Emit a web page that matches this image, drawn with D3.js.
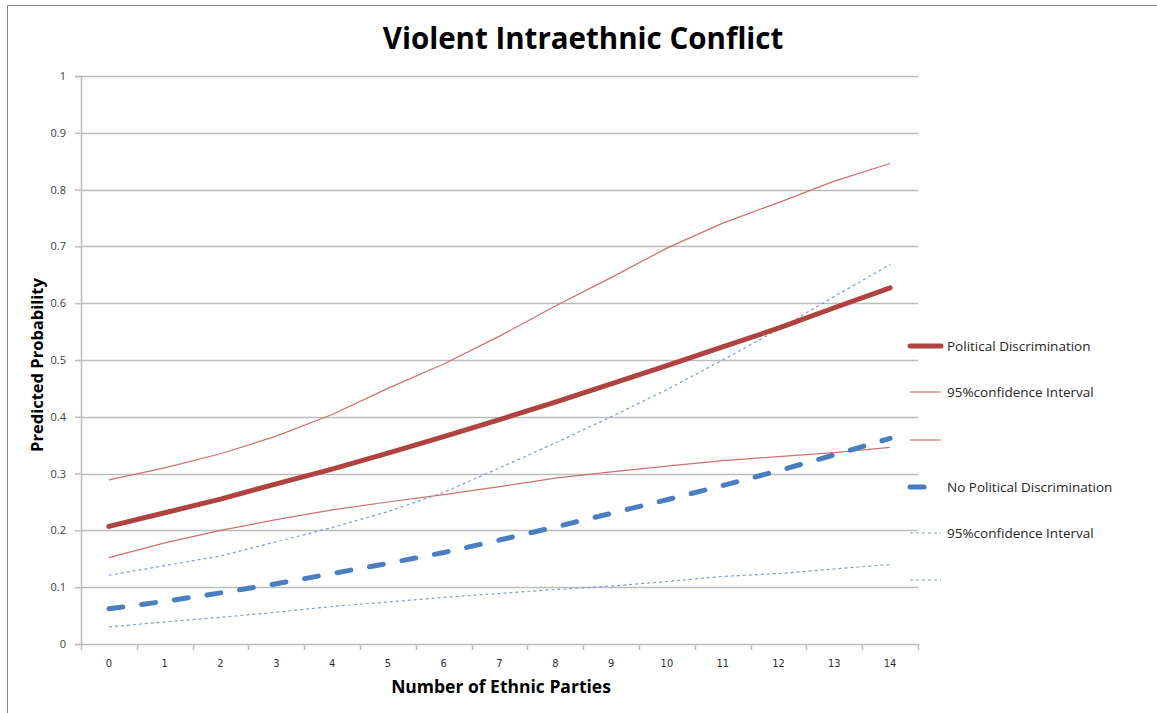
<!DOCTYPE html>
<html>
<head>
<meta charset="utf-8">
<script src="https://cdn.jsdelivr.net/npm/d3@7"></script>
<style>
  body { margin: 0; background: #fff; }
  svg { display: block; }
</style>
</head>
<body>
<svg id="chart" width="1157" height="713"></svg>
<script>
const parties = [0, 1, 2, 3, 4, 5, 6, 7, 8, 9, 10, 11, 12, 13, 14]
const yTicks = [0, 0.1, 0.2, 0.3, 0.4, 0.5, 0.6, 0.7, 0.8, 0.9, 1]

const polDisc = [0.207, 0.231, 0.255, 0.282, 0.308, 0.336, 0.365, 0.395, 0.426, 0.458, 0.490, 0.523, 0.556, 0.592, 0.627]
const polUpper = [0.289, 0.310, 0.335, 0.366, 0.404, 0.450, 0.493, 0.542, 0.595, 0.645, 0.697, 0.741, 0.777, 0.815, 0.846]
const polLower = [0.152, 0.178, 0.200, 0.219, 0.236, 0.250, 0.263, 0.277, 0.292, 0.303, 0.313, 0.323, 0.330, 0.337, 0.346]
const noDisc = [0.062, 0.075, 0.090, 0.106, 0.124, 0.142, 0.161, 0.183, 0.206, 0.230, 0.254, 0.279, 0.305, 0.333, 0.362]
const noUpper = [0.121, 0.138, 0.155, 0.180, 0.205, 0.233, 0.267, 0.310, 0.354, 0.400, 0.448, 0.500, 0.554, 0.612, 0.668]
const noLower = [0.030, 0.039, 0.047, 0.056, 0.066, 0.074, 0.082, 0.089, 0.096, 0.102, 0.110, 0.119, 0.124, 0.132, 0.140]

const legendLabels = ['Political Discrimination', '95%confidence Interval', '', 'No Political Discrimination', '95%confidence Interval', '']

const RED = '#b0433f'
const RED_THIN = '#d0706c'
const BLUE = '#4a7ebf'
const BLUE_THIN = '#7c9fd0'

const styles = [
    { stroke: RED, width: 5, dash: null, cap: 'round' },
    { stroke: RED_THIN, width: 1.2, dash: null, cap: 'butt' },
    { stroke: RED_THIN, width: 1.2, dash: null, cap: 'butt' },
    { stroke: BLUE, width: 5, dash: '14,19', cap: 'round' },
    { stroke: BLUE_THIN, width: 1.2, dash: '3,3', cap: 'butt' },
    { stroke: BLUE_THIN, width: 1.2, dash: '3,3', cap: 'butt' }
]
const series = [polDisc, polUpper, polLower, noDisc, noUpper, noLower]
// draw order: CIs first, main lines on top
const drawOrder = [1, 2, 4, 5, 0, 3]

const $svg = d3.select('#chart')
const width = 1157, height = 713
const MARGIN = { top: 76, right: 239, bottom: 69, left: 81 }
const plotRight = width - MARGIN.right
const plotBottom = height - MARGIN.bottom

// outer frame (only left and top edges show)
$svg.append('path')
    .attr('d', `M7.5,${height + 5} V5.5 H${width + 5}`)
    .attr('fill', 'none')
    .attr('stroke', '#868686')
    .attr('stroke-width', 1)

const x = d3.scaleBand()
    .domain(parties)
    .range([MARGIN.left, plotRight])
const xc = d => x(d) + x.bandwidth() / 2

const y = d3.scaleLinear()
    .domain([0, 1])
    .range([plotBottom, MARGIN.top])

// gridlines
$svg.append('g')
    .selectAll('line')
    .data(yTicks.filter(d => d > 0))
    .join('line')
    .attr('x1', MARGIN.left)
    .attr('x2', plotRight)
    .attr('y1', d => Math.round(y(d)) + 0.5)
    .attr('y2', d => Math.round(y(d)) + 0.5)
    .attr('stroke', '#bdbdbd')
    .attr('stroke-width', 1.5)

// y axis
const yAxis = d3.axisLeft(y)
    .tickValues(yTicks)
    .tickFormat(d => d3.format('~g')(d))
    .tickSize(6)
    .tickPadding(9)
const $yAxis = $svg.append('g')
    .attr('transform', `translate(${MARGIN.left},0)`)
    .call(yAxis)
$yAxis.select('.domain').attr('stroke', '#bdbdbd').attr('stroke-width', 1.5)
$yAxis.selectAll('.tick line').attr('stroke', '#bdbdbd').attr('stroke-width', 1.5)
$yAxis.selectAll('.tick text')
    .attr('font-family', "'Open Sans', sans-serif")
    .attr('font-size', 11)
    .attr('fill', '#404040')

// x axis: ticks between categories, labels at centres
const $xAxis = $svg.append('g')
$xAxis.append('line')
    .attr('x1', MARGIN.left)
    .attr('x2', plotRight)
    .attr('y1', plotBottom + 0.5)
    .attr('y2', plotBottom + 0.5)
    .attr('stroke', '#bdbdbd')
    .attr('stroke-width', 1.5)
$xAxis.selectAll('.xtick')
    .data(parties.map(d => x(d)).concat([plotRight]))
    .join('line')
    .attr('class', 'xtick')
    .attr('x1', d => Math.round(d) + 0.5)
    .attr('x2', d => Math.round(d) + 0.5)
    .attr('y1', plotBottom)
    .attr('y2', plotBottom + 6)
    .attr('stroke', '#bdbdbd')
    .attr('stroke-width', 1.5)
$xAxis.selectAll('.xlabel')
    .data(parties)
    .join('text')
    .attr('class', 'xlabel')
    .attr('x', d => xc(d))
    .attr('y', plotBottom + 23)
    .attr('text-anchor', 'middle')
    .attr('font-family', "'DejaVu Sans Condensed', 'DejaVu Sans', sans-serif")
    .attr('font-stretch', 'condensed')
    .attr('font-size', 11)
    .attr('fill', '#303030')
    .text(d => d)

// lines
const line = d3.line()
    .x((d, i) => xc(parties[i]))
    .y(d => y(d))

$svg.append('g')
    .selectAll('path')
    .data(drawOrder)
    .join('path')
    .attr('d', k => line(series[k]))
    .attr('fill', 'none')
    .attr('stroke', k => styles[k].stroke)
    .attr('stroke-width', k => styles[k].width)
    .attr('stroke-dasharray', k => styles[k].dash)
    .attr('stroke-linecap', k => styles[k].cap)
    .attr('stroke-linejoin', 'round')

// legend
const legendY = [346, 392, 440, 487, 533, 580]
const $legend = $svg.append('g')
const $items = $legend.selectAll('g')
    .data(legendLabels)
    .join('g')
    .attr('transform', (d, i) => `translate(0,${legendY[i]})`)
$items.append('line')
    .attr('x1', 910)
    .attr('x2', (d, i) => i === 3 ? 924 : 941)
    .attr('y1', 0)
    .attr('y2', 0)
    .attr('stroke', (d, i) => styles[i].stroke)
    .attr('stroke-width', (d, i) => styles[i].width)
    .attr('stroke-dasharray', (d, i) => i === 3 ? null : styles[i].dash)
    .attr('stroke-linecap', (d, i) => styles[i].cap)
$items.append('text')
    .attr('x', 947)
    .attr('y', 5)
    .attr('font-family', "'Open Sans', sans-serif")
    .attr('font-size', 13.5)
    .attr('fill', '#262626')
    .text(d => d)

// title and axis titles
$svg.append('text')
    .attr('x', 583)
    .attr('y', 49)
    .attr('text-anchor', 'middle')
    .attr('font-family', "'Open Sans', sans-serif")
    .attr('font-weight', 'bold')
    .attr('font-size', 29.5)
    .attr('fill', '#000')
    .text('Violent Intraethnic Conflict')

$svg.append('text')
    .attr('transform', `translate(43,${(MARGIN.top + plotBottom) / 2 + 5}) rotate(-90)`)
    .attr('text-anchor', 'middle')
    .attr('font-family', "'Open Sans', sans-serif")
    .attr('font-weight', 'bold')
    .attr('font-size', 16.5)
    .attr('fill', '#000')
    .text('Predicted Probability')

$svg.append('text')
    .attr('x', 501)
    .attr('y', 693)
    .attr('text-anchor', 'middle')
    .attr('font-family', "'Open Sans', sans-serif")
    .attr('font-weight', 'bold')
    .attr('font-size', 17.5)
    .attr('fill', '#000')
    .text('Number of Ethnic Parties')
</script>
</body>
</html>
